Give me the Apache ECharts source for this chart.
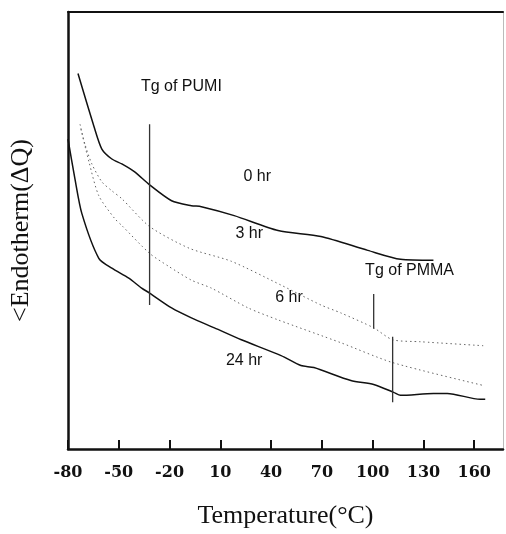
<!DOCTYPE html>
<html lang="en" style="height: 100%">

<head>
    <meta charset="utf-8">
    <script type="text/javascript" src="https://cdn.jsdelivr.net/npm/echarts@6/dist/echarts.min.js"></script>
</head>

<body style="height: 100%; margin: 0; background: #fff">
    <div id="dscChart" style="height: 534px; width: 506px"></div>

    <script type="text/javascript">
        // temperature (°C) / heat-flow (arbitrary units) pairs
        var hr0 = [[-74.1, 378], [-64.7, 325], [-60, 302], [-54.1, 292], [-48.2, 287], [-40.6, 279],
            [-31.8, 266], [-18.8, 250], [-7.1, 245], [-1.2, 244], [18.2, 235], [44.1, 220],
            [69.4, 214], [97.1, 200], [116.5, 191], [135.9, 190]];
        var hr3 = [[-72.9, 327], [-70, 307], [-65.9, 287], [-60, 269], [-54.1, 260], [-48.2, 252],
            [-31.8, 224], [-8.2, 202], [16.5, 189], [45.9, 165], [69.4, 145], [81.2, 137],
            [100.6, 122], [111.8, 110], [128.2, 108], [165.3, 104]];
        var hr6 = [[-72.4, 322], [-67.6, 289], [-61.8, 255], [-52.4, 232], [-48.2, 225], [-31.8, 197],
            [-20.6, 184], [-7.1, 170], [4.7, 162], [26.5, 142], [44.1, 130], [81.2, 107],
            [111.8, 87], [165.3, 64]];
        var hr24 = [[-80, 312], [-75.9, 272], [-71.8, 237], [-61.8, 192], [-54.1, 182],
            [-44.1, 172], [-36.5, 162], [-31.8, 157], [-18.8, 142], [-7.1, 132], [6.5, 122],
            [22.4, 110], [45.9, 94], [57.6, 84], [65.3, 82], [87.1, 69], [100.6, 65], [112.4, 57],
            [116.5, 54], [135.9, 56], [144.1, 56], [163.5, 50], [166.5, 50]];

        // Tg marker lines
        var tgPumi = [[-31.8, 327], [-31.8, 145]];
        var tgPmma = [[100.6, 156], [100.6, 121]];
        var tgPmma2 = [[111.8, 113], [111.8, 47]];

        // text labels: [x, y, text]
        var notes = [[-13, 365, 'Tg of PUMI'], [31.8, 274, '0 hr'], [27.1, 217, '3 hr'],
            [50.6, 152, '6 hr'], [24.1, 89, '24 hr'], [121.8, 180, 'Tg of PMMA']];

        var xTicks = [-80, -50, -20, 10, 40, 70, 100, 130, 160];

        var chart = echarts.init(document.getElementById('dscChart'));

        function curve(data, dotted) {
            return {
                type: 'line',
                data: data,
                showSymbol: false,
                smooth: 0.25,
                silent: true,
                lineStyle: dotted
                    ? { color: '#666', width: 1, type: [1.5, 3] }
                    : { color: '#111', width: 1.5 }
            };
        }

        function marker(data) {
            return {
                type: 'line',
                data: data,
                showSymbol: false,
                silent: true,
                lineStyle: { color: '#333', width: 1.3 }
            };
        }

        var option = {
            animation: false,
            backgroundColor: '#fff',
            grid: { left: 66, right: 3, top: 12, bottom: 82 },
            xAxis: [{
                type: 'value',
                min: -80,
                max: 177,
                name: 'Temperature(°C)',
                nameLocation: 'middle',
                nameGap: 54,
                nameTextStyle: { fontFamily: 'Liberation Serif', fontSize: 26, color: '#111' },
                axisLine: { onZero: false, lineStyle: { color: '#111', width: 2.5 } },
                axisTick: { inside: true, length: 9, customValues: xTicks, lineStyle: { color: '#111', width: 2 } },
                axisLabel: {
                    customValues: xTicks,
                    margin: 16,
                    fontFamily: 'DejaVu Serif',
                    fontWeight: 'bold',
                    fontSize: 16,
                    color: '#111'
                },
                splitLine: { show: false }
            }, {
                type: 'value',
                position: 'top',
                min: -80,
                max: 177,
                axisLine: { onZero: false, lineStyle: { color: '#111', width: 2 } },
                axisTick: { show: false },
                axisLabel: { show: false },
                splitLine: { show: false }
            }],
            yAxis: [{
                type: 'value',
                min: 0,
                max: 440,
                name: '<Endotherm(ΔQ)',
                nameLocation: 'middle',
                nameGap: 34,
                nameTextStyle: { fontFamily: 'Liberation Serif', fontSize: 26, color: '#111' },
                axisLine: { show: true, onZero: false, lineStyle: { color: '#111', width: 2.5 } },
                axisTick: { show: false },
                axisLabel: { show: false },
                splitLine: { show: false }
            }, {
                type: 'value',
                position: 'right',
                min: 0,
                max: 440,
                axisLine: { show: true, onZero: false, lineStyle: { color: '#bbb', width: 1 } },
                axisTick: { show: false },
                axisLabel: { show: false },
                splitLine: { show: false }
            }],
            series: [
                curve(hr0, false),
                curve(hr3, true),
                curve(hr6, true),
                curve(hr24, false),
                marker(tgPumi),
                marker(tgPmma),
                marker(tgPmma2),
                {
                    type: 'scatter',
                    data: notes,
                    symbolSize: 0,
                    silent: true,
                    itemStyle: { opacity: 1 },
                    label: {
                        show: true,
                        position: 'inside',
                        formatter: function (p) { return p.value[2]; },
                        fontFamily: 'Liberation Sans',
                        fontSize: 16,
                        color: '#111'
                    }
                }
            ]
        };
        chart.setOption(option);
    </script>
</body>

</html>
